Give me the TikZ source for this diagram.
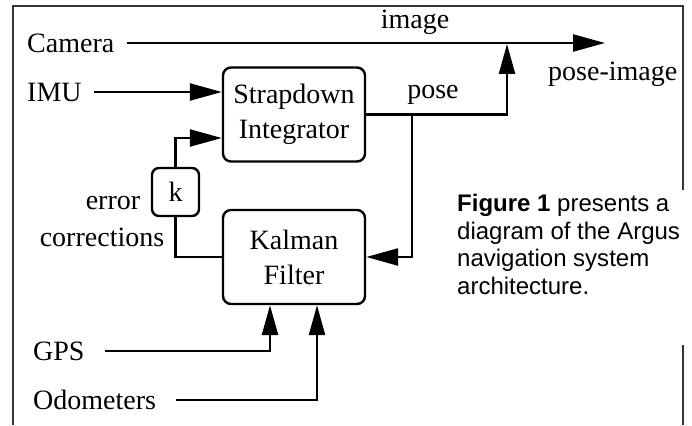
\documentclass[tikz,border=0pt]{standalone}
\usepackage{fontspec}
\usepackage{tikz}
\usetikzlibrary{arrows.meta}
\setmainfont{Liberation Serif}
\newfontfamily\capfont{Liberation Sans}
\newcommand{\lw}{2.4pt}
\tikzset{
    blk/.style={draw, line width=\lw, rounded corners=8pt, align=center,
        minimum width=142pt, minimum height=94pt, inner sep=0pt},
    lbl/.style={inner sep=0pt},
    wire/.style={line width=\lw},
    arr/.style={line width=\lw, -{Triangle[length=32pt,width=17pt]}},
    varr/.style={line width=\lw, -{Triangle[length=30pt,width=16pt]}},
}

\begin{document}
\begin{tikzpicture}[x=1pt, y=-1pt, font=\fontsize{28}{35}\selectfont]
    \useasboundingbox (0,0) rectangle (692,425);
    % outer frame, open on the right behind the caption
    \draw[line width=1.4pt, black!80] (13,425) -- (13,6) -- (683,6) -- (683,190);
    \draw[line width=1.4pt, black!80] (683,345) -- (683,425);

    \node[blk] (strap) at (294,114.5) {Strapdown\\Integrator};
    \node[blk] (kal) at (294,257) {Kalman\\Filter};
    \node[blk, rounded corners=7pt, minimum width=47pt, minimum height=48pt] (k) at (175.5,192) {k};

    \node[lbl, anchor=west] (cam) at (27,43) {Camera};
    \node[lbl, anchor=west] (imu) at (27,92) {IMU};
    \node[lbl, anchor=west] (gps) at (33,351) {GPS};
    \node[lbl, anchor=west] (odo) at (33,400) {Odometers};
    \node[lbl] (err) at (113,203) {error};
    \node[lbl] (corr) at (102,237) {corrections};
    \node[lbl] (img) at (415,22) {image};
    \node[lbl] (pose) at (433,95) {pose};
    \node[lbl, anchor=west] (pimg) at (548,74) {pose-image};

    \coordinate (out) at (605,43);
    \coordinate (merge) at (507,44);
    \coordinate (split) at (412,114.5);

    % sensors
    \draw[arr] ([xshift=13pt]cam.east) -- (out);
    \draw[arr] ([xshift=12pt]imu.east) -- (imu.east -| strap.west);
    \draw[varr] ([xshift=20pt]gps.east) -| ([xshift=-24pt]kal.south);
    \draw[varr] ([xshift=20pt]odo.east) -| ([xshift=23pt]kal.south);

    % pose out of the integrator
    \draw[varr] (strap.east) -| (merge);
    \draw[arr] (split) |- (kal.east);

    % error corrections back through k
    \draw[wire] (kal.west) -| (k.south);
    \draw[arr] (k.north) |- ([yshift=-23.5pt]strap.west);

    \node[lbl, anchor=north west, align=left,
        font=\capfont\fontsize{24}{27.7}\selectfont] (cap) at (457,194)
        {\textbf{Figure 1} presents a\\diagram of the Argus\\navigation system\\architecture.};
\end{tikzpicture}
\end{document}
